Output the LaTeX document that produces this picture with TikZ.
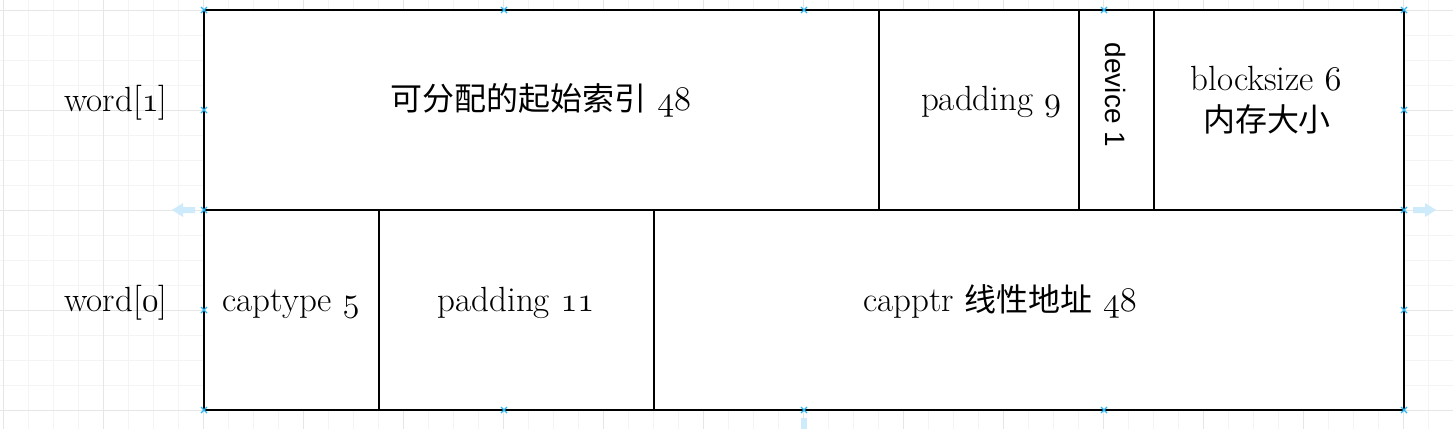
\documentclass[tikz,border=0pt]{standalone}
\usepackage{fontspec}
\newfontfamily\cjk{Noto Sans CJK SC}[Scale=0.914]
\newfontfamily\arialfont{Liberation Sans}
\newcommand\osn[1]{{\usefont{OML}{cmm}{m}{it}#1}}
\definecolor{gridminor}{HTML}{F4F4F4}
\definecolor{gridmajor}{HTML}{E6E6E6}
\definecolor{handle}{HTML}{29B6F2}
\definecolor{hint}{HTML}{CDEBFA}
\tikzset{
  cell/.style={draw=black, fill=white, line width=1pt},
  lbl/.style={font=\fontsize{17.5}{21}\selectfont, inner sep=0pt, anchor=base},
  grip/.style={handle, line width=0.6pt},
}

\begin{document}
\begin{tikzpicture}[x=0.5pt, y=-0.5pt]
        \useasboundingbox (0,0) rectangle (1453,429);
        % Raster im Hintergrund
        \foreach \x in {3,28,...,1453} \draw[gridminor, line width=0.5pt] (\x,0) -- (\x,429);
        \foreach \y in {10,35,...,429} \draw[gridminor, line width=0.5pt] (0,\y) -- (1453,\y);
        \foreach \x in {3,103,...,1453} \draw[gridmajor, line width=0.5pt] (\x,0) -- (\x,429);
        \foreach \y in {10,110,...,429} \draw[gridmajor, line width=0.5pt] (0,\y) -- (1453,\y);

        % word[1]
        \draw[cell] (204,10) rectangle (879,210);
        \draw[cell] (879,10) rectangle (1079,210);
        \draw[cell] (1079,10) rectangle (1154,210);
        \draw[cell] (1154,10) rectangle (1404,210);

        % word[0]
        \draw[cell] (204,210) rectangle (379,410);
        \draw[cell] (379,210) rectangle (654,410);
        \draw[cell] (654,210) rectangle (1404,410);

        % Beschriftung
        \node[lbl] (w1) at (116,111) {word[\osn{1}]};
        \node[lbl] (w0) at (116,311) {word[\osn{0}]};
        \node[lbl] (alloc) at (541,110) {{\cjk 可分配的起始索引} \osn{48}};
        \node[lbl] (pad9) at (991,110) {padding \osn{9}};
        \node[lbl, anchor=center, rotate=-90, font={\arialfont\fontsize{14}{17}\selectfont}] (dev) at (1116,95) {device 1};
        \node[lbl] (bsize) at (1266,90) {blocksize \osn{6}};
        \node[lbl] (bmem) at (1267,131) {\cjk 内存大小};
        \node[lbl] (ctype) at (291,311) {captype \osn{5}};
        \node[lbl] (pad11) at (516,311) {padding \osn{11}};
        \node[lbl] (cptr) at (1000,311) {capptr {\cjk 线性地址} \osn{48}};

        % Auswahlpunkte
        \foreach \x in {204,504,804,1104,1404} {
          \draw[grip] (\x-3,7) -- (\x+3,13) (\x-3,13) -- (\x+3,7);
          \draw[grip] (\x-3,407) -- (\x+3,413) (\x-3,413) -- (\x+3,407);
        }
        \foreach \y in {110,210,310} {
          \draw[grip] (201,\y-3) -- (207,\y+3) (201,\y+3) -- (207,\y-3);
          \draw[grip] (1401,\y-3) -- (1407,\y+3) (1401,\y+3) -- (1407,\y-3);
        }

        % Pfeile
        \fill[hint] (1413,207) -- (1425,207) -- (1425,203) -- (1436,210) -- (1425,217) -- (1425,213) -- (1413,213) -- cycle;
        \fill[hint] (195,207) -- (183,207) -- (183,203) -- (172,210) -- (183,217) -- (183,213) -- (195,213) -- cycle;
        \fill[hint] (801,418) rectangle (807,429);
    \end{tikzpicture}
\end{document}
